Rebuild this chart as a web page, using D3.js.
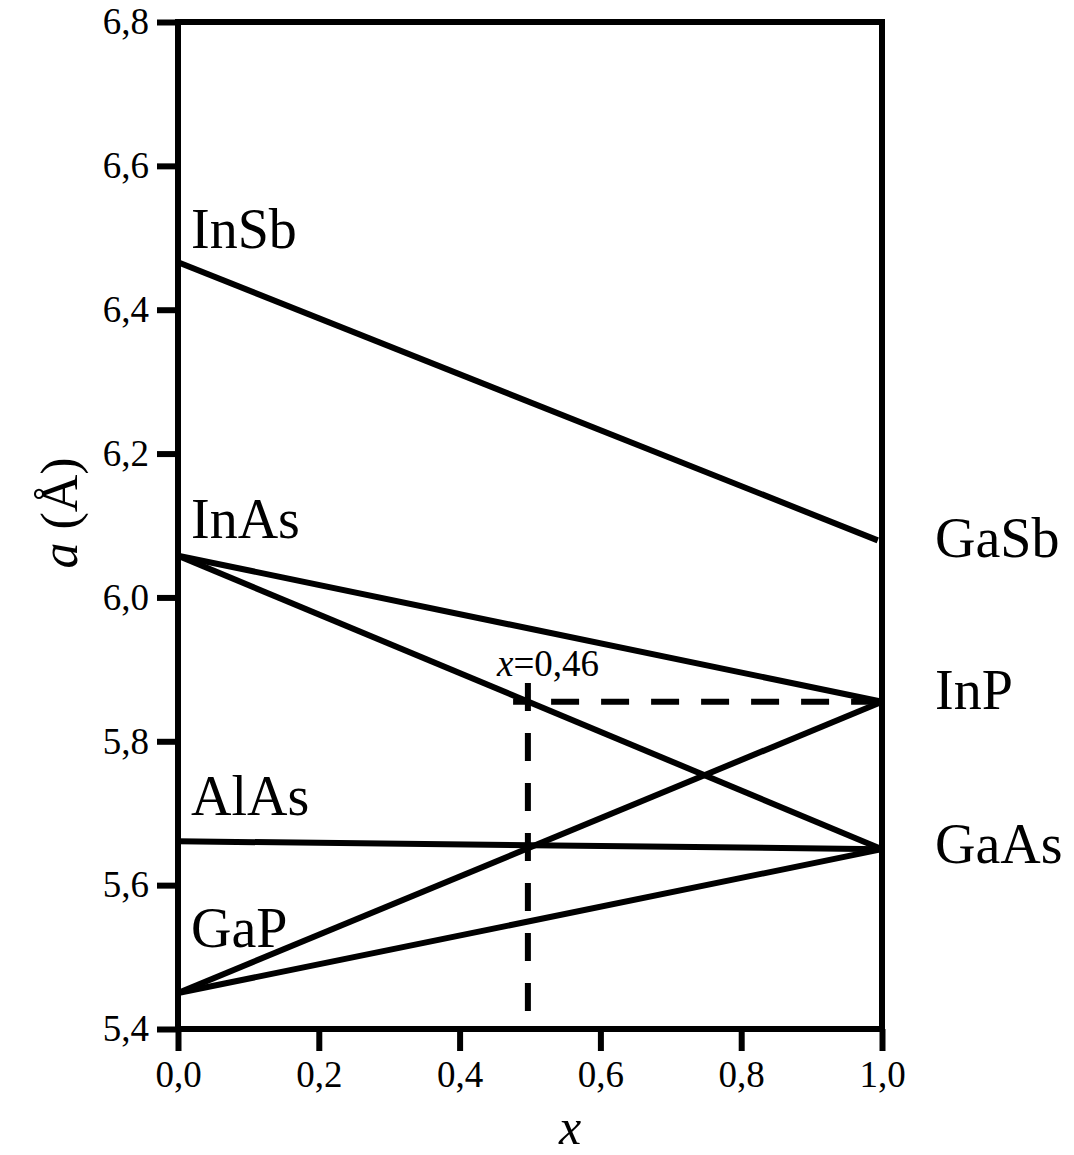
<!DOCTYPE html>
<html>
<head>
<meta charset="utf-8">
<script src="https://cdn.jsdelivr.net/npm/d3@7"></script>
<style>
  body { margin: 0; background: #fff; }
  text { font-family: "Liberation Serif", "Times New Roman", serif; fill: #000; }
</style>
</head>
<body>
<div id="chart"></div>
<script>
const width = 1074;
const height = 1155;
const margin = { top: 22, right: 192, bottom: 126, left: 178 };

// binary compounds: lattice constant a (Å), at x = 0 (left) or x = 1 (right)
const leftCompounds = [
  { name: 'InSb', a: 6.466 },
  { name: 'InAs', a: 6.058 },
  { name: 'AlAs', a: 5.661 },
  { name: 'GaP', a: 5.450 }
];
const rightCompounds = [
  { name: 'GaSb', a: 6.077 },
  { name: 'InP', a: 5.855 },
  { name: 'GaAs', a: 5.650 }
];

// ternary alloy lines: [start compound, end compound, x at end]
const alloys = [
  ['InSb', 'GaSb', 0.994],
  ['InAs', 'InP', 1],
  ['InAs', 'GaAs', 1],
  ['AlAs', 'GaAs', 1],
  ['GaP', 'GaAs', 1],
  ['GaP', 'InP', 1]
];

// lattice-match marker
const matchX = 0.497;
const matchLabel = '0,46';
const matchA = 5.855;
const vDashRange = [5.424, 5.881];
const hDashStart = 0.476;

const xTicks = [0, 0.2, 0.4, 0.6, 0.8, 1.0];
const yTicks = [5.4, 5.6, 5.8, 6.0, 6.2, 6.4, 6.6, 6.8];

const lookup = {};
leftCompounds.forEach(d => lookup[d.name] = { x: 0, a: d.a });
rightCompounds.forEach(d => lookup[d.name] = { x: 1, a: d.a });

const fmt = d => d3.format('.1f')(d).replace('.', ',');

const svg = d3.select('#chart')
  .append('svg')
  .attr('width', width)
  .attr('height', height);

const x = d3.scaleLinear()
  .domain([0, 1])
  .range([margin.left, width - margin.right]);

const y = d3.scaleLinear()
  .domain([5.4, 6.8])
  .range([height - margin.bottom, margin.top]);

const sw = 6;

// y axis
const yAxis = svg.append('g')
  .attr('transform', `translate(${margin.left},0)`)
  .call(d3.axisLeft(y).tickValues(yTicks).tickFormat(fmt).tickSize(21).tickPadding(8).tickSizeOuter(0));
yAxis.select('.domain').remove();
yAxis.selectAll('line').attr('stroke', '#000').attr('stroke-width', sw);
yAxis.selectAll('text').style('font-size', '37px').attr('dy', '0.32em');

// x axis
const xAxis = svg.append('g')
  .attr('transform', `translate(0,${y(5.4)})`)
  .call(d3.axisBottom(x).tickValues(xTicks).tickFormat(fmt).tickSize(22).tickPadding(10).tickSizeOuter(0));
xAxis.select('.domain').remove();
xAxis.selectAll('line').attr('stroke', '#000').attr('stroke-width', sw);
xAxis.selectAll('text').style('font-size', '37px').attr('dy', '0.71em');

// frame
svg.append('rect')
  .attr('x', x(0))
  .attr('y', y(6.8))
  .attr('width', x(1) - x(0))
  .attr('height', y(5.4) - y(6.8))
  .attr('fill', 'none')
  .attr('stroke', '#000')
  .attr('stroke-width', sw);

// alloy lines
svg.append('g')
  .selectAll('line')
  .data(alloys)
  .enter()
  .append('line')
  .attr('x1', d => x(lookup[d[0]].x))
  .attr('y1', d => y(lookup[d[0]].a))
  .attr('x2', d => x(d[2]))
  .attr('y2', d => {
    const s = lookup[d[0]], e = lookup[d[1]];
    return y(s.a + (e.a - s.a) * (d[2] - s.x) / (e.x - s.x));
  })
  .attr('stroke', '#000')
  .attr('stroke-width', sw);

// dashed guides
svg.append('line')
  .attr('x1', x(matchX)).attr('x2', x(matchX))
  .attr('y1', y(vDashRange[1])).attr('y2', y(vDashRange[0]))
  .attr('stroke', '#000')
  .attr('stroke-width', sw)
  .attr('stroke-dasharray', '28,22');

svg.append('line')
  .attr('x1', x(hDashStart)).attr('x2', x(1))
  .attr('y1', y(matchA)).attr('y2', y(matchA))
  .attr('stroke', '#000')
  .attr('stroke-width', sw)
  .attr('stroke-dasharray', '28,22')
  .attr('stroke-dashoffset', 12);

const mLabel = svg.append('text')
  .attr('x', 497)
  .attr('y', 676)
  .style('font-size', '37px');
mLabel.append('tspan').style('font-style', 'italic').text('x');
mLabel.append('tspan').text('=' + matchLabel);

// compound labels
const leftLabelY = { InSb: 248, InAs: 538, AlAs: 815, GaP: 947 };
svg.append('g')
  .selectAll('text')
  .data(leftCompounds)
  .enter()
  .append('text')
  .attr('x', 191)
  .attr('y', d => leftLabelY[d.name])
  .style('font-size', '56px')
  .text(d => d.name);

const rightLabelY = { GaSb: 557, InP: 709, GaAs: 863 };
svg.append('g')
  .selectAll('text')
  .data(rightCompounds)
  .enter()
  .append('text')
  .attr('x', 935)
  .attr('y', d => rightLabelY[d.name])
  .style('font-size', '56px')
  .text(d => d.name);

// axis titles
svg.append('text')
  .attr('x', 570)
  .attr('y', 1144)
  .attr('text-anchor', 'middle')
  .style('font-size', '50px')
  .style('font-style', 'italic')
  .text('x');

const yTitle = svg.append('text')
  .attr('transform', 'translate(77,513) rotate(-90)')
  .attr('text-anchor', 'middle')
  .style('font-size', '52px');
yTitle.append('tspan').style('font-style', 'italic').text('a');
yTitle.append('tspan').text(' (Å)');
</script>
</body>
</html>
